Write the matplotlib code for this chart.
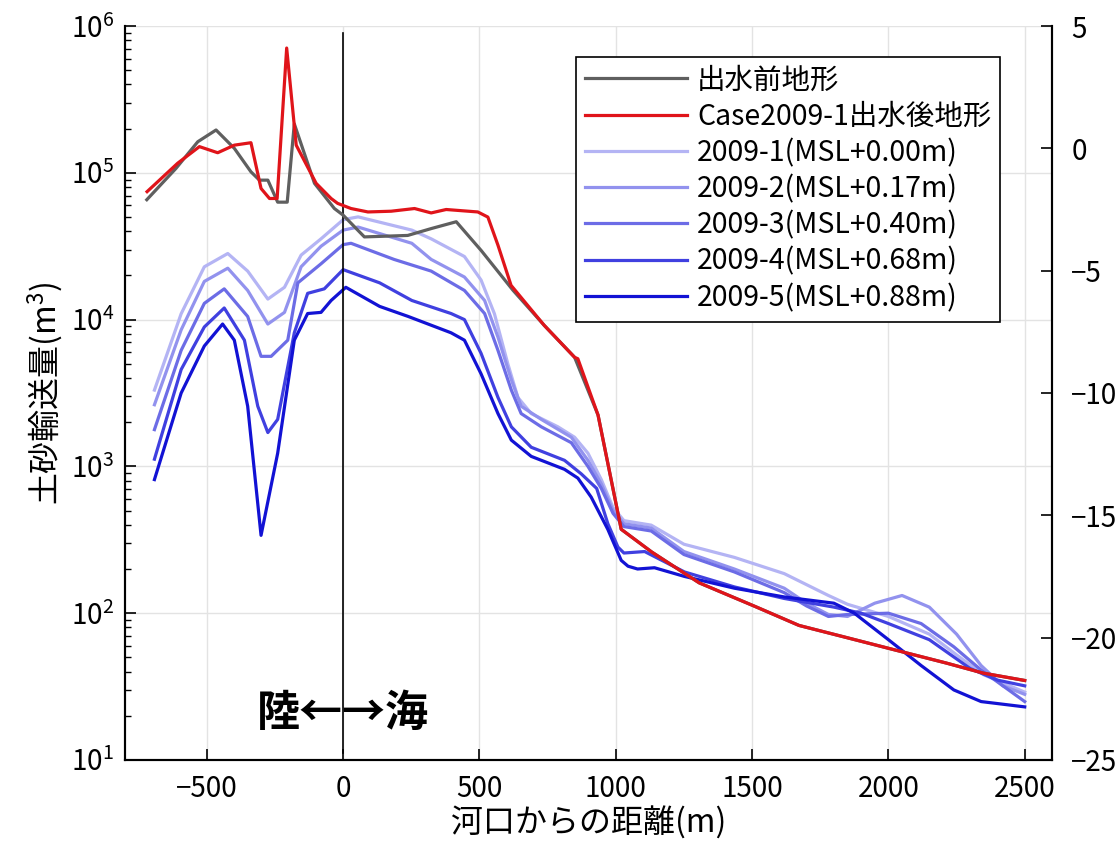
import math
import matplotlib
matplotlib.use("Agg")
import matplotlib.pyplot as plt
from matplotlib.ticker import LogLocator, FixedLocator, FuncFormatter, NullFormatter

plt.rcParams['font.family'] = ['Noto Sans CJK JP', 'DejaVu Sans']
plt.rcParams['mathtext.default'] = 'regular'
plt.rcParams['axes.unicode_minus'] = True

# topography (right axis, m)
x_before = [-720, -613, -533, -466, -399, -338, -307, -276, -240, -205, -179, -105, -32, 0,
            78, 237, 323, 415, 506, 623, 738, 849, 935, 1020, 1132, 1306, 1510, 1672,
            1848, 2023, 2213, 2348, 2500]
z_before = [-2.1, -0.82, 0.27, 0.75, 0.0, -0.96, -1.3, -1.3, -2.2, -2.2, 1.0, -1.43, -2.46, -2.73,
            -3.62, -3.56, -3.28, -3.0, -4.17, -5.8, -7.24, -8.54, -10.9, -15.57, -16.5, -17.76,
            -18.72, -19.5, -20.0, -20.5, -21.04, -21.45, -21.75]

x_after = [-719, -607, -527, -460, -399, -338, -301, -270, -242, -207, -172, -99, -44, -20,
           29, 91, 176, 262, 323, 378, 494, 531, 568, 616, 738, 849, 861, 935, 1020, 1132,
           1306, 1510, 1672, 1848, 2023, 2213, 2348, 2500]
z_after = [-1.77, -0.61, 0.07, -0.18, 0.13, 0.23, -1.64, -2.05, -2.05, 4.1, 0.13, -1.43, -2.05, -2.25,
           -2.46, -2.6, -2.57, -2.46, -2.64, -2.5, -2.6, -2.81, -3.96, -5.6, -7.24, -8.54, -8.6,
           -10.9, -15.57, -16.5, -17.76, -18.72, -19.5, -20.0, -20.5, -21.04, -21.45, -21.75]

# sediment transport (left axis, m3)
x_c1 = [-692, -594, -509, -423, -350, -276, -215, -154, -81, 0, 55, 252, 323, 445, 506, 555,
        604, 641, 690, 788, 849, 898, 947, 990, 1030, 1130, 1250, 1435, 1618, 1780, 1850,
        2000, 2150, 2250, 2350, 2500]
q_c1 = [3310, 10960, 22900, 28200, 21400, 13800, 16600, 27500, 35500, 47900, 50100, 40700,
        35500, 26900, 18600, 10960, 5010, 2950, 2290, 1860, 1580, 1230, 813, 525, 427, 398,
        295, 240, 186, 132, 115, 95, 72, 52, 38, 29]

x_c2 = [-692, -594, -509, -423, -350, -276, -215, -154, -81, 0, 55, 252, 323, 445, 519, 568,
        617, 653, 727, 837, 898, 947, 990, 1030, 1130, 1250, 1435, 1618, 1700, 1780, 1850,
        1950, 2050, 2150, 2250, 2340, 2420, 2500]
q_c2 = [2630, 8510, 18200, 22400, 15800, 9330, 11200, 22900, 31600, 40700, 42700, 33100,
        25700, 19500, 13500, 7590, 3890, 2570, 2090, 1580, 1100, 759, 501, 407, 380, 263,
        200, 148, 117, 98, 95, 117, 132, 110, 72, 44, 32, 28]

x_c3 = [-692, -594, -509, -436, -350, -301, -264, -203, -166, -81, 0, 29, 187, 323, 445, 519,
        568, 617, 653, 727, 837, 898, 947, 990, 1030, 1130, 1250, 1435, 1618, 1700, 1780,
        1850, 2000, 2120, 2240, 2340, 2420, 2500]
q_c3 = [1780, 6170, 12900, 16200, 10500, 5620, 5620, 7240, 17800, 24000, 32400, 33100, 25700,
        21400, 15800, 11000, 6170, 3310, 2290, 1860, 1450, 1000, 708, 479, 389, 363, 251,
        191, 138, 112, 95, 98, 100, 85, 59, 41, 32, 25]

x_c4 = [-692, -594, -509, -436, -362, -313, -276, -240, -179, -130, -69, 0, 134, 252, 396,
        445, 506, 568, 617, 690, 812, 873, 930, 971, 1008, 1030, 1106, 1252, 1435, 1618,
        1800, 1900, 2000, 2150, 2300, 2400, 2500]
q_c4 = [1120, 4570, 8910, 12000, 7240, 2570, 1700, 2090, 8130, 15100, 16200, 21900, 17800,
        13500, 11000, 10000, 5890, 2950, 1860, 1350, 1100, 891, 708, 407, 282, 257, 263,
        191, 151, 126, 110, 100, 85, 66, 42, 35, 32]

x_c5 = [-692, -594, -509, -442, -399, -350, -301, -240, -179, -130, -81, -44, 10, 134, 239,
        396, 445, 506, 568, 617, 690, 812, 861, 910, 971, 1020, 1045, 1080, 1142, 1252,
        1435, 1618, 1800, 1875, 2000, 2120, 2240, 2340, 2500]
q_c5 = [813, 3160, 6610, 9330, 7240, 2570, 339, 1230, 7240, 11000, 11200, 13500, 16600,
        12300, 10500, 8130, 7240, 4270, 2290, 1510, 1170, 955, 832, 617, 372, 229, 209,
        200, 204, 178, 148, 129, 117, 100, 66, 44, 30, 25, 23]

case_labels = ['2009-1(MSL+0.00m)', '2009-2(MSL+0.17m)', '2009-3(MSL+0.40m)',
               '2009-4(MSL+0.68m)', '2009-5(MSL+0.88m)']
case_colors = ['#b4b4f4', '#9292ee', '#6c6ce6', '#4040e0', '#1212d4']

fig = plt.figure(figsize=(11.17, 8.5), dpi=100)
ax = fig.add_axes([0.1119, 0.1059, 0.8299, 0.8635])
ax2 = ax.twinx()

handles = []
for xs, qs, lab, col in zip([x_c1, x_c2, x_c3, x_c4, x_c5],
                            [q_c1, q_c2, q_c3, q_c4, q_c5], case_labels, case_colors):
    h, = ax.plot(xs, qs, color=col, lw=2.3, label=lab)
    handles.append(h)

hb, = ax2.plot(x_before, z_before, color='#5f5f5f', lw=2.3, label='出水前地形')
ha, = ax2.plot(x_after, z_after, color='#e0141a', lw=2.3, label='Case2009-1出水後地形')

ax.set_yscale('log')
ax.set_ylim(10, 1e6)
ax.set_xlim(-800, 2600)
ax.set_xticks([-500, 0, 500, 1000, 1500, 2000, 2500])
ax.yaxis.set_major_locator(LogLocator(base=10, numticks=10))
ax.yaxis.set_minor_locator(LogLocator(base=10, subs=range(2, 10), numticks=20))
ax.yaxis.set_minor_formatter(NullFormatter())
ax.yaxis.set_major_formatter(FuncFormatter(lambda v, p: r'$\mathregular{10^{%d}}$' % round(math.log10(v))))
ax.grid(True, which='major', color='#e3e3e3', lw=1.0)
ax.tick_params(which='both', direction='in', labelsize=20)
ax.tick_params(which='major', length=8, width=1.2)
ax.tick_params(which='minor', length=4, width=1.0)
ax.tick_params(axis='x', pad=10)
ax.tick_params(axis='y', pad=8)

ax2.set_ylim(-25, 5)
ax2.yaxis.set_major_locator(FixedLocator([5, 0, -5, -10, -15, -20, -25]))
ax2.tick_params(direction='in', length=8, width=1.2, labelsize=20, pad=14)

for a in (ax, ax2):
    a.spines['top'].set_visible(False)
    for s in ('left', 'right', 'bottom'):
        a.spines[s].set_linewidth(1.5)

ax.axvline(0, ymin=0.01, ymax=0.99, color='black', lw=1.2)
ax.text(0, 21, '陸←→海', ha='center', va='center', fontsize=31, fontweight='bold')

ax.set_xlabel('河口からの距離(m)', fontsize=23, labelpad=2)
ax.set_ylabel('土砂輸送量(m$^3$)', fontsize=23, labelpad=4)

leg = ax2.legend([hb, ha] + handles, [hb.get_label(), ha.get_label()] + case_labels,
                 loc='upper right', bbox_to_anchor=(0.944, 0.958), borderaxespad=0,
                 fontsize=20.5, labelspacing=0.22, handlelength=3.6, handletextpad=0.35,
                 borderpad=0.3, fancybox=False, framealpha=1, edgecolor='black')
leg.get_frame().set_linewidth(1.2)

fig.savefig('out.png', dpi=100, facecolor='white')
